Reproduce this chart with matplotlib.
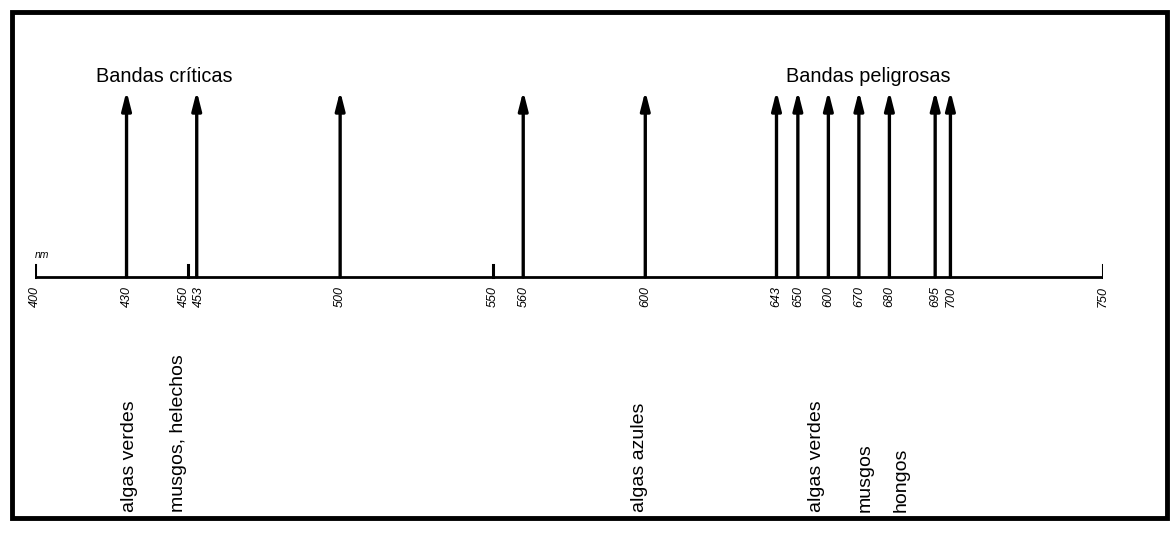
"""
Bandas del espectro: críticas y peligrosas para algas, musgos y hongos.
"""

import matplotlib
matplotlib.use("Agg")
import matplotlib.pyplot as plt
from matplotlib.patches import Rectangle

# wavelengths (nm) marked with an arrow
bands = [430, 453, 500, 560, 600, 643, 650, 660, 670, 680, 695, 700]
# short reference ticks
minor_ticks = [400, 450, 550, 750]
# tick labels as printed under the axis
tick_pos = [400, 430, 450, 453, 500, 550, 560, 600, 643, 650, 660, 670, 680, 695, 700, 750]
tick_labels = ["400", "430", "450", "453", "500", "550", "560", "600",
               "643", "650", "600", "670", "680", "695", "700", "750"]
# organisms and where their label sits on the nm axis
organisms = ["algas verdes", "musgos, helechos", "algas azules",
             "algas verdes", "musgos", "hongos"]
organism_nm = [431, 447, 598, 656, 672, 684]
group_titles = ["Bandas críticas", "Bandas peligrosas"]
group_nm = [420, 646]

plt.rcParams["font.family"] = ["Liberation Sans", "DejaVu Sans"]

W, H = 1176, 544
fig = plt.figure(figsize=(W / 100, H / 100), dpi=100)
fig.patch.set_facecolor("white")

# frame around the whole figure
fig.patches.append(Rectangle((12 / W, 1 - 518 / H), 1155 / W, 506 / H,
                             transform=fig.transFigure, fill=False,
                             lw=3.5, edgecolor="black"))

ax = fig.add_axes([35 / W, 0, 1068 / W, 1])
ax.set_xlim(400, 750)
ax.set_ylim(H, 0)  # y measured downwards
ax.axis("off")

base = 277
top = 91

ax.plot([400, 750], [base, base], color="black", lw=2, solid_capstyle="butt")

for m in minor_ticks:
    ax.plot([m, m], [base, base - 12], color="black", lw=2.2)

for b in bands:
    ax.annotate("", xy=(b, top), xytext=(b, base),
                arrowprops=dict(arrowstyle="-|>,head_width=0.14,head_length=0.55",
                                lw=2.4, color="black", mutation_scale=20,
                                shrinkA=0, shrinkB=0))

# 450 and 453 sit too close: nudge their labels apart a little
nudge = {450: -4, 453: 2}
for p, lab in zip(tick_pos, tick_labels):
    ax.annotate(lab, xy=(p, base + 9), xytext=(nudge.get(p, 0), 0),
                textcoords="offset pixels", rotation=90, ha="center", va="top",
                fontsize=9, style="italic")

ax.text(400, base - 22, "nm", fontsize=7.5, style="italic", ha="left", va="center")

for n, lab in zip(organism_nm, organisms):
    ax.text(n, 512, lab, rotation=90, ha="center", va="bottom", fontsize=14)

for n, lab in zip(group_nm, group_titles):
    ax.text(n, 76, lab, ha="left", va="center", fontsize=14.3)

fig.savefig("out.png", dpi=100)
